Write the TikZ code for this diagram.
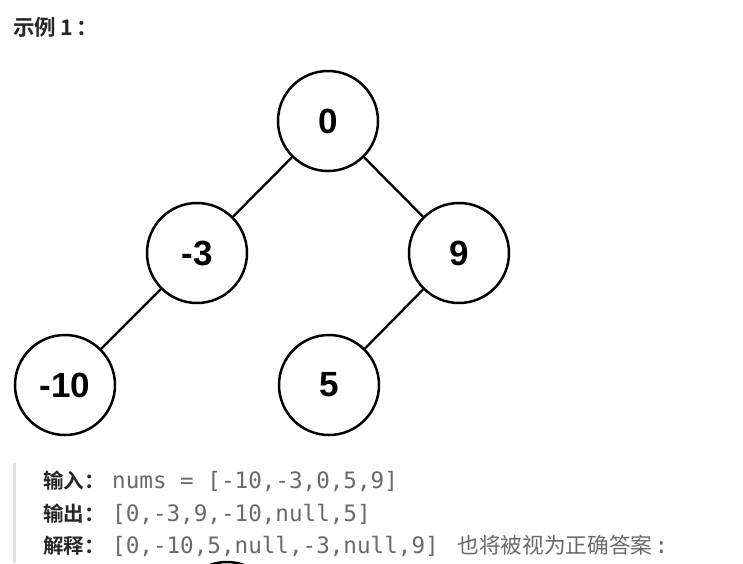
\documentclass[tikz,border=0pt]{standalone}
\usepackage{fontspec}
\newfontfamily\cjkfont{Noto Sans CJK SC}
\newfontfamily\cjkbold{Noto Sans CJK SC}[BoldFont={* Bold}]
\newfontfamily\codefont{DejaVu Sans Mono}
\newfontfamily\numfont{Liberation Sans}
\definecolor{codegray}{RGB}{105,105,105}
\definecolor{labelblack}{RGB}{38,38,38}
\definecolor{barcolor}{RGB}{226,226,226}
\tikzset{
  treenode/.style={circle, draw=black, line width=2.5pt, minimum size=100pt, inner sep=0pt,
    font=\numfont\bfseries\fontsize{35}{35}\selectfont},
  treeedge/.style={line width=2.3pt, black},
  labeltext/.style={anchor=base west, inner sep=0pt, text=labelblack,
    font=\cjkbold\bfseries\fontsize{20.5}{21}\selectfont},
  titletext/.style={anchor=base west, inner sep=0pt, text=labelblack,
    font=\cjkbold\bfseries\fontsize{21.5}{22}\selectfont},
  codetext/.style={anchor=base west, inner sep=0pt, text=codegray,
    font=\codefont\fontsize{22.6}{24}\selectfont},
}
\begin{document}
\begin{tikzpicture}[x=1pt, y=-1pt]
\useasboundingbox (0,0) rectangle (743,563);

% title
\node[titletext] (title) at (13,35) {示例\hspace{4pt}1\hspace{4pt}：};

% tree
\node[treenode] (n0)  at (328,121) {0};
\node[treenode] (nm3) at (197,253) {-3};
\node[treenode] (n9)  at (459,253) {9};
\node[treenode] (nm10) at (65,385) {-10};
\node[treenode] (n5)  at (329,385) {5};

\draw[treeedge] (n0) -- (nm3);
\draw[treeedge] (n0) -- (n9);
\draw[treeedge] (nm3) -- (nm10);
\draw[treeedge] (n9) -- (n5);

% quote bar
\fill[barcolor] (13,463) rectangle (16,563);

% text lines
\node[labeltext] (l1) at (43,488) {输入：};
\node[codetext] (c1) at (112,488) {nums = [-10,-3,0,5,9]};
\node[labeltext] (l2) at (43,521) {输出：};
\node[codetext] (c2) at (112,521) {[0,-3,9,-10,null,5]};
\node[labeltext] (l3) at (43,553) {解释：};
\node[codetext] (c3) at (112,553) {[0,-10,5,null,-3,null,9] {\cjkfont\fontsize{21.7}{24}\selectfont\hspace{5pt}也将被视为正确答案}\hspace{2pt}:};

% sliver of the next picture
\begin{scope}
\clip (0,0) rectangle (743,563);
\draw[line width=2.5pt] (227,612) circle (50);
\end{scope}
\end{tikzpicture}
\end{document}
